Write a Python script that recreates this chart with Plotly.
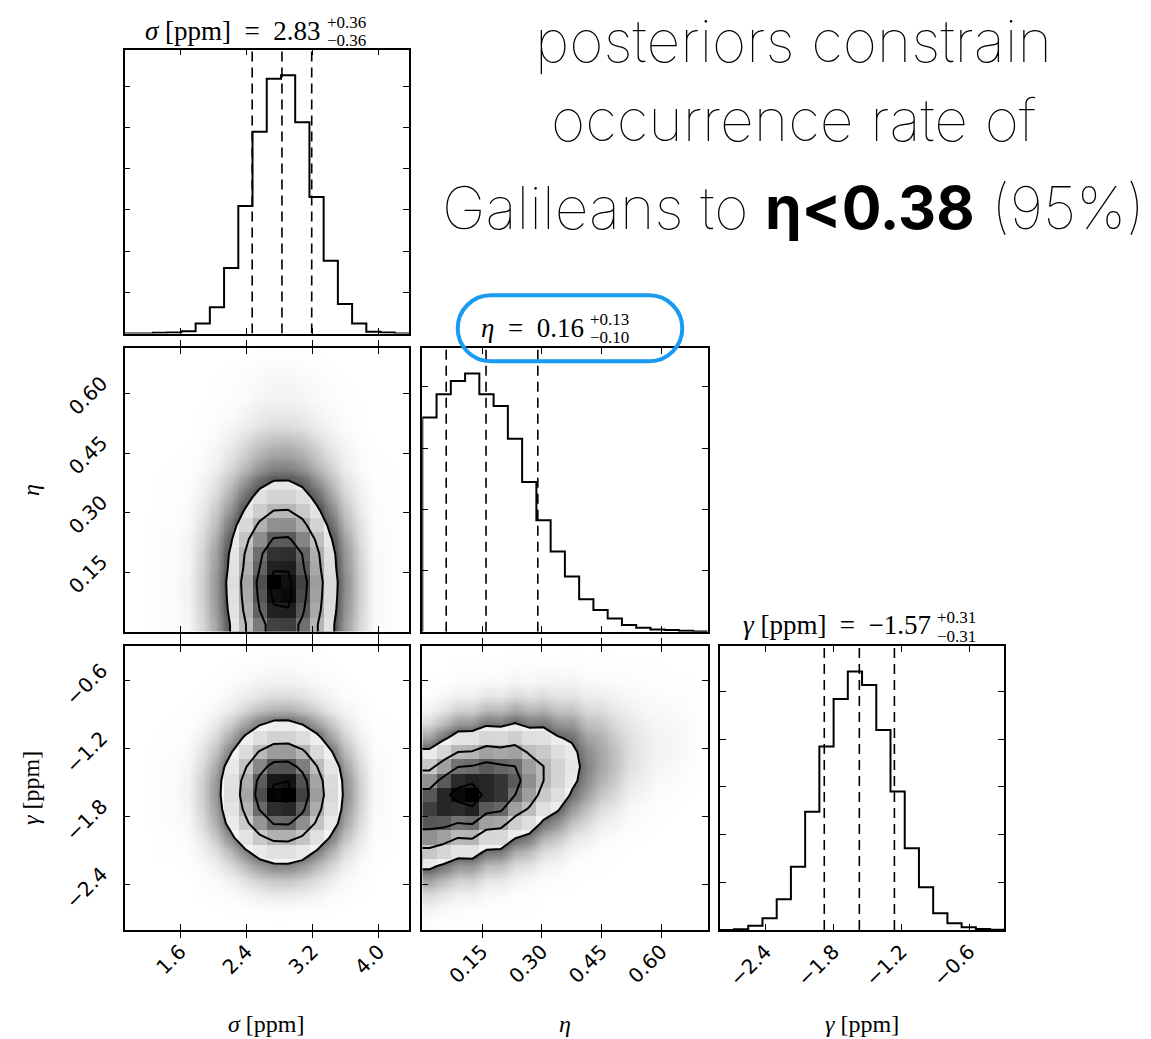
import numpy as np
import plotly.graph_objects as go

W, H = 1151, 1039

# ------------------------------------------------------------------ data
sigma_range = [0.925, 4.367]
eta_range = [0.0, 0.716]
gamma_range = [-2.804, -0.288]

sigma_counts = [0, 0, 8, 12, 28, 122, 317, 793, 1545, 2447, 3089, 3130, 2561, 1654, 882, 358, 122, 20, 12, 0]
eta_counts = [1749, 1940, 2049, 2109, 1940, 1844, 1577, 1224, 910, 656, 451, 265, 178, 109, 55, 33, 19, 14, 8, 3]
gamma_counts = [0, 7, 45, 122, 322, 664, 1241, 1923, 2423, 2710, 2570, 2098, 1451, 857, 448, 175, 70, 28, 10, 3]

sigma_q = [2.47, 2.83, 3.19]
eta_q = [0.06, 0.16, 0.29]
gamma_q = [-1.88, -1.57, -1.26]

sigma_ticks = [1.6, 2.4, 3.2, 4.0]
sigma_ticktext = ["1.6", "2.4", "3.2", "4.0"]
eta_ticks = [0.15, 0.30, 0.45, 0.60]
eta_ticktext = ["0.15", "0.30", "0.45", "0.60"]
gamma_ticks = [-2.4, -1.8, -1.2, -0.6]
gamma_ticktext = ["\u22122.4", "\u22121.8", "\u22121.2", "\u22120.6"]
count_ticks = [500, 1000, 1500, 2000, 2500, 3000]

# 2-D density (per-mille of the peak cell), rows = eta bins (bottom->top), cols = sigma bins
dens_sigma_eta = [
    [0, 0, 2, 3, 7, 32, 84, 210, 410, 648, 818, 829, 678, 438, 234, 95, 32, 5, 3, 0],
    [0, 0, 3, 4, 8, 36, 93, 233, 454, 719, 908, 920, 753, 486, 259, 105, 36, 6, 4, 0],
    [0, 0, 3, 4, 9, 38, 98, 246, 480, 760, 959, 972, 795, 513, 274, 111, 38, 6, 4, 0],
    [0, 0, 3, 4, 9, 39, 101, 253, 494, 782, 1000, 960, 818, 528, 282, 114, 39, 6, 4, 0],
    [0, 0, 3, 4, 8, 36, 93, 233, 454, 719, 908, 920, 753, 486, 259, 105, 36, 6, 4, 0],
    [0, 0, 3, 3, 8, 34, 88, 221, 432, 683, 863, 874, 715, 461, 246, 100, 34, 5, 3, 0],
    [0, 0, 2, 3, 7, 29, 76, 189, 370, 585, 738, 748, 612, 395, 211, 85, 29, 4, 3, 0],
    [0, 0, 2, 2, 5, 23, 59, 147, 287, 454, 572, 580, 474, 306, 164, 66, 23, 3, 2, 0],
    [0, 0, 1, 2, 4, 17, 44, 109, 213, 337, 425, 431, 353, 228, 122, 49, 17, 3, 2, 0],
    [0, 0, 1, 1, 3, 12, 31, 79, 154, 243, 307, 311, 254, 164, 88, 35, 12, 2, 1, 0],
    [0, 0, 1, 1, 2, 8, 22, 54, 106, 167, 211, 214, 175, 113, 60, 24, 8, 1, 1, 0],
    [0, 0, 0, 1, 1, 5, 13, 32, 62, 99, 124, 126, 103, 67, 36, 14, 5, 1, 1, 0],
    [0, 0, 0, 0, 1, 3, 8, 21, 41, 66, 83, 84, 69, 44, 24, 10, 3, 1, 0, 0],
    [0, 0, 0, 0, 0, 2, 5, 13, 26, 41, 51, 52, 43, 27, 15, 6, 2, 0, 0, 0],
    [0, 0, 0, 0, 0, 1, 3, 7, 13, 20, 26, 26, 21, 14, 7, 3, 1, 0, 0, 0],
    [0, 0, 0, 0, 0, 1, 2, 4, 8, 13, 16, 16, 13, 8, 5, 2, 1, 0, 0, 0],
    [0, 0, 0, 0, 0, 0, 1, 2, 4, 7, 9, 9, 7, 5, 3, 1, 0, 0, 0, 0],
    [0, 0, 0, 0, 0, 0, 1, 2, 3, 5, 7, 7, 6, 4, 2, 1, 0, 0, 0, 0],
    [0, 0, 0, 0, 0, 0, 0, 1, 2, 3, 4, 4, 3, 2, 1, 0, 0, 0, 0, 0],
    [0, 0, 0, 0, 0, 0, 0, 0, 0, 1, 1, 1, 1, 1, 0, 0, 0, 0, 0, 0],
]

# rows = gamma bins (bottom->top), cols = sigma bins
dens_sigma_gamma = [
    [0, 0, 0, 0, 0, 0, 0, 0, 0, 0, 0, 0, 0, 0, 0, 0, 0, 0, 0, 0],
    [0, 0, 0, 0, 0, 0, 0, 1, 1, 2, 3, 3, 2, 2, 1, 0, 0, 0, 0, 0],
    [0, 0, 0, 0, 0, 1, 2, 4, 8, 13, 17, 17, 14, 9, 5, 2, 1, 0, 0, 0],
    [0, 0, 0, 0, 0, 2, 5, 11, 22, 35, 44, 45, 37, 24, 13, 5, 2, 0, 0, 0],
    [0, 0, 0, 0, 1, 5, 12, 30, 59, 93, 117, 119, 97, 63, 34, 14, 5, 1, 0, 0],
    [0, 0, 1, 1, 2, 10, 25, 62, 121, 192, 242, 245, 200, 129, 69, 28, 10, 1, 1, 0],
    [0, 0, 1, 2, 4, 18, 46, 116, 226, 358, 452, 458, 375, 242, 129, 52, 18, 3, 2, 0],
    [0, 0, 2, 3, 6, 28, 72, 180, 351, 555, 701, 710, 581, 375, 200, 81, 28, 4, 3, 0],
    [0, 0, 3, 4, 8, 35, 90, 226, 442, 699, 882, 894, 731, 472, 252, 102, 35, 5, 4, 0],
    [0, 0, 3, 4, 9, 39, 101, 253, 494, 782, 987, 1000, 818, 528, 282, 114, 39, 6, 4, 0],
    [0, 0, 3, 4, 9, 37, 96, 240, 468, 741, 936, 948, 775, 501, 267, 108, 37, 6, 4, 0],
    [0, 0, 2, 3, 7, 30, 78, 196, 382, 605, 764, 774, 633, 409, 218, 88, 30, 5, 3, 0],
    [0, 0, 2, 2, 5, 21, 54, 135, 264, 418, 528, 535, 438, 282, 151, 61, 21, 3, 2, 0],
    [0, 0, 1, 1, 3, 12, 32, 80, 156, 247, 312, 316, 258, 167, 89, 36, 12, 2, 1, 0],
    [0, 0, 0, 1, 1, 6, 17, 42, 82, 129, 163, 165, 135, 87, 47, 19, 6, 1, 1, 0],
    [0, 0, 0, 0, 1, 3, 7, 16, 32, 51, 64, 65, 53, 34, 18, 7, 3, 0, 0, 0],
    [0, 0, 0, 0, 0, 1, 3, 7, 13, 20, 26, 26, 21, 14, 7, 3, 1, 0, 0, 0],
    [0, 0, 0, 0, 0, 0, 1, 3, 5, 8, 10, 10, 8, 5, 3, 1, 0, 0, 0, 0],
    [0, 0, 0, 0, 0, 0, 0, 1, 2, 3, 4, 4, 3, 2, 1, 0, 0, 0, 0, 0],
    [0, 0, 0, 0, 0, 0, 0, 0, 0, 1, 1, 1, 1, 1, 0, 0, 0, 0, 0, 0],
]

# listed per eta bin (left->right); each list runs over gamma bins (bottom->top)
dens_eta_gamma_cols = [
    [2, 9, 30, 83, 190, 362, 574, 756, 829, 756, 574, 362, 190, 83, 30, 9, 2, 1, 0, 0],
    [1, 6, 19, 57, 143, 298, 518, 748, 899, 899, 748, 518, 298, 143, 57, 19, 6, 1, 0, 0],
    [1, 3, 11, 35, 97, 223, 425, 673, 886, 972, 886, 673, 425, 223, 97, 35, 11, 3, 1, 0],
    [1, 3, 11, 36, 100, 229, 437, 692, 912, 1000, 912, 692, 437, 229, 100, 36, 11, 3, 1, 0],
    [0, 1, 6, 19, 57, 143, 298, 518, 748, 899, 899, 748, 518, 298, 143, 57, 19, 6, 1, 0],
    [0, 1, 5, 18, 54, 135, 283, 492, 711, 854, 854, 711, 492, 283, 135, 54, 18, 5, 1, 0],
    [0, 1, 2, 8, 27, 75, 171, 327, 518, 682, 748, 682, 518, 327, 171, 75, 27, 8, 2, 1],
    [0, 1, 2, 6, 21, 58, 133, 253, 401, 529, 580, 529, 401, 253, 133, 58, 21, 6, 2, 1],
    [0, 0, 0, 3, 9, 27, 67, 140, 243, 350, 421, 421, 350, 243, 140, 67, 27, 9, 3, 0],
    [0, 0, 0, 2, 7, 19, 48, 101, 175, 253, 304, 304, 253, 175, 101, 48, 19, 7, 2, 0],
    [0, 0, 0, 1, 2, 8, 21, 49, 94, 148, 195, 214, 195, 148, 94, 49, 21, 8, 2, 1],
    [0, 0, 0, 0, 1, 5, 13, 29, 55, 87, 115, 126, 115, 87, 55, 29, 13, 5, 1, 0],
    [0, 0, 0, 0, 1, 2, 5, 13, 27, 47, 68, 82, 82, 68, 47, 27, 13, 5, 2, 1],
    [0, 0, 0, 0, 0, 1, 3, 8, 17, 29, 42, 51, 51, 42, 29, 17, 8, 3, 1, 0],
    [0, 0, 0, 0, 0, 0, 1, 3, 6, 11, 18, 24, 26, 24, 18, 11, 6, 3, 1, 0],
    [0, 0, 0, 0, 0, 0, 1, 2, 4, 7, 11, 15, 16, 15, 11, 7, 4, 2, 1, 0],
    [0, 0, 0, 0, 0, 0, 0, 1, 1, 3, 5, 7, 9, 9, 7, 5, 3, 1, 1, 0],
    [0, 0, 0, 0, 0, 0, 0, 0, 1, 2, 4, 6, 7, 7, 6, 4, 2, 1, 0, 0],
    [0, 0, 0, 0, 0, 0, 0, 0, 0, 1, 2, 3, 4, 4, 4, 3, 2, 1, 0, 0],
    [0, 0, 0, 0, 0, 0, 0, 0, 0, 0, 0, 0, 1, 1, 1, 0, 0, 0, 0, 0],
]

levels_sigma_eta = [200, 420, 720, 930]
levels_sigma_gamma = [140, 400, 690, 950]
levels_eta_gamma = [165, 420, 680, 930]

title_sigma = ("<i>\u03c3</i> [ppm]\u2002=\u20022.83", "+0.36", "\u22120.36")
title_eta = ("<i>\u03b7</i>\u2002=\u20020.16", "+0.13", "\u22120.10")
title_gamma = ("<i>\u03b3</i> [ppm]\u2002=\u2002\u22121.57", "+0.31", "\u22120.31")
heading = ["posteriors constrain", "occurrence rate of",
           "Galileans to <b>\u03b7&lt;0.38</b> (95%)"]

# ------------------------------------------------------------------ layout helpers
COLS = [(124.5, 409.0), (422.3, 707.5), (719.8, 1004.3)]
ROWS = [(49.5, 333.5), (347.7, 631.8), (645.7, 930.0)]
SERIF = "Liberation Serif"
SANS = "DejaVu Sans"


def dom_x(c):
    return [COLS[c][0] / W, COLS[c][1] / W]


def dom_y(r):
    return [1 - ROWS[r][1] / H, 1 - ROWS[r][0] / H]


def px(x, y):
    return x / W, 1 - y / H


def edges_of(rng):
    return np.linspace(rng[0], rng[1], 21)


def centers_padded(rng):
    e = edges_of(rng)
    c = 0.5 * (e[1:] + e[:-1])
    return np.concatenate([[rng[0]], c, [rng[1]]])


fig = go.Figure()

axis_common = dict(showline=True, linecolor="black", linewidth=1.8, mirror="allticks",
                   ticks="inside", ticklen=6, tickwidth=1.3, tickcolor="black",
                   showgrid=False, zeroline=False,
                   tickfont=dict(family=SANS, size=20, color="black"))

# ------------------------------------------------------------------ 1-D histograms
hist_specs = [
    ("x", "y", sigma_range, sigma_counts, sigma_q),
    ("x3", "y3", eta_range, eta_counts, eta_q),
    ("x6", "y6", gamma_range, gamma_counts, gamma_q),
]
for xa, ya, rng, counts, q in hist_specs:
    e = edges_of(rng)
    xs = [e[0]] + list(e)
    ys = [0] + list(counts) + [0]
    fig.add_trace(go.Scatter(x=xs, y=ys, mode="lines", line=dict(color="black", width=2, shape="hv"),
                             xaxis=xa, yaxis=ya, hoverinfo="skip", showlegend=False))
    ymax = 1.1 * max(counts)
    for qq in q:
        fig.add_trace(go.Scatter(x=[qq, qq], y=[0, ymax], mode="lines",
                                 line=dict(color="black", width=1.6, dash="10px,6px"),
                                 xaxis=xa, yaxis=ya, hoverinfo="skip", showlegend=False))

# ------------------------------------------------------------------ 2-D panels
haze_scale = []
for v in [0, 0.005, 0.01, 0.02, 0.04, 0.07, 0.1, 0.15, 0.2, 0.25, 1.0]:
    d = min(0.66, 1 - np.exp(-5.0 * v))
    g = int(round(255 * (1 - d)))
    haze_scale.append([v, f"rgb({g},{g},{g})"])

cell_scale = [[v, f"rgba(0,0,0,{v ** 1.5:.3f})"] for v in [0, 0.1, 0.2, 0.3, 0.4, 0.5, 0.6, 0.7, 0.8, 0.9, 1.0]]

panels = [
    ("x2", "y2", "y7", sigma_range, eta_range, np.array(dens_sigma_eta, float), levels_sigma_eta),
    ("x4", "y4", "y8", sigma_range, gamma_range, np.array(dens_sigma_gamma, float), levels_sigma_gamma),
    ("x5", "y5", "y9", eta_range, gamma_range, np.array(dens_eta_gamma_cols, float).T, levels_eta_gamma),
]
for xa, ya, yo, xr, yr, dens, levels in panels:
    xp = centers_padded(xr)
    yp = centers_padded(yr)
    zp = np.pad(dens, 1, mode="edge")
    # haze standing in for the sample cloud
    fig.add_trace(go.Heatmap(x=xp, y=yp, z=zp / 1000.0, zsmooth="best", colorscale=haze_scale,
                             zmin=0, zmax=1, showscale=False, hoverinfo="skip", xaxis=xa, yaxis=ya))
    # white interior of the outermost contour
    fig.add_trace(go.Contour(x=xp, y=yp, z=zp, contours=dict(type="constraint", operation="<", value=levels[0]),
                             fillcolor="white", line=dict(width=0, color="white"), showscale=False,
                             hoverinfo="skip", xaxis=xa, yaxis=ya))
    # binned density cells
    fig.add_trace(go.Heatmap(x=edges_of(xr), y=edges_of(yr), z=dens / 1000.0, zsmooth=False,
                             colorscale=cell_scale, zmin=0, zmax=1, showscale=False,
                             hoverinfo="skip", xaxis=xa, yaxis=yo))
    for lv in levels:
        fig.add_trace(go.Contour(x=xp, y=yp, z=zp, autocontour=False,
                                 contours=dict(start=lv, end=lv, size=1, coloring="none"),
                                 line=dict(color="black", width=2, smoothing=0), showscale=False,
                                 hoverinfo="skip", xaxis=xa, yaxis=yo))

# ------------------------------------------------------------------ axes
def xaxis(c, rng, ticks, text, labels, anchor):
    d = dict(axis_common, domain=dom_x(c), range=rng, tickvals=ticks, ticktext=text,
             showticklabels=labels, anchor=anchor)
    if labels:
        d["tickangle"] = -45
    return d


def yaxis(r, rng, ticks, text, labels, anchor):
    d = dict(axis_common, domain=dom_y(r), range=rng, tickvals=ticks, ticktext=text,
             showticklabels=labels, anchor=anchor)
    if labels:
        d["tickangle"] = -45
        d["ticklabelstandoff"] = 17
        d["ticklabelshift"] = -13
    return d


ct = [str(t) for t in count_ticks]
fig.update_layout(
    xaxis=xaxis(0, sigma_range, sigma_ticks, sigma_ticktext, False, "y"),
    yaxis=yaxis(0, [0, 1.1 * max(sigma_counts)], count_ticks, ct, False, "x"),
    xaxis2=xaxis(0, sigma_range, sigma_ticks, sigma_ticktext, False, "y2"),
    yaxis2=yaxis(1, eta_range, eta_ticks, eta_ticktext, True, "x2"),
    xaxis3=xaxis(1, eta_range, eta_ticks, eta_ticktext, False, "y3"),
    yaxis3=yaxis(1, [0, 1.1 * max(eta_counts)], count_ticks, ct, False, "x3"),
    xaxis4=xaxis(0, sigma_range, sigma_ticks, sigma_ticktext, True, "y4"),
    yaxis4=yaxis(2, gamma_range, gamma_ticks, gamma_ticktext, True, "x4"),
    xaxis5=xaxis(1, eta_range, eta_ticks, eta_ticktext, True, "y5"),
    yaxis5=yaxis(2, gamma_range, gamma_ticks, gamma_ticktext, False, "x5"),
    xaxis6=xaxis(2, gamma_range, gamma_ticks, gamma_ticktext, True, "y6"),
    yaxis6=yaxis(2, [0, 1.1 * max(gamma_counts)], count_ticks, ct, False, "x6"),
    yaxis7=dict(overlaying="y2", range=eta_range, visible=False, anchor="x2"),
    yaxis8=dict(overlaying="y4", range=gamma_range, visible=False, anchor="x4"),
    yaxis9=dict(overlaying="y5", range=gamma_range, visible=False, anchor="x5"),
)

# ------------------------------------------------------------------ text
annotations = []


def ann(text, x, y, size, xanchor="center", family=SERIF, angle=0, weight=None):
    xx, yy = px(x, y)
    f = dict(family=family, size=size, color="black")
    if weight is not None:
        f["weight"] = weight
    annotations.append(dict(text=text, x=xx, y=yy, xref="paper", yref="paper", showarrow=False,
                            xanchor=xanchor, yanchor="middle", font=f, textangle=angle))


def title(parts, x_join, y_main, y_sup, y_sub):
    main, sup, sub = parts
    ann(main, x_join, y_main, 27, xanchor="right")
    ann(sup, x_join + 2, y_sup, 17, xanchor="left")
    ann(sub, x_join + 2, y_sub, 17, xanchor="left")


title(title_sigma, 323, 31.5, 22, 40.5)
title(title_eta, 586, 328, 319, 337.5)
title(title_gamma, 933, 624.5, 617.5, 636.5)

ann("<i>\u03c3</i> [ppm]", 266.5, 1024, 24)
ann("<i>\u03b7</i>", 565, 1024, 24)
ann("<i>\u03b3</i> [ppm]", 862, 1024, 24)
ann("<i>\u03b7</i>", 31, 490, 24, angle=-90)
ann("<i>\u03b3</i> [ppm]", 31, 788, 24, angle=-90)

HS = 59
for txt, yb in zip(heading, [62, 141, 229]):
    ann(txt, 793, yb - 0.365 * HS, HS, family="Inter", weight=100)

# ------------------------------------------------------------------ highlight pill
x0, y0, x1, y1 = 457.7, 295.3, 682.3, 361.3
r = (y1 - y0) / 2
k = 0.5523 * r


def P(x, y):
    a, b = px(x, y)
    return f"{a:.5f},{b:.5f}"


path = (f"M {P(x0 + r, y0)} L {P(x1 - r, y0)} "
        f"C {P(x1 - r + k, y0)} {P(x1, y0 + r - k)} {P(x1, y0 + r)} "
        f"C {P(x1, y0 + r + k)} {P(x1 - r + k, y1)} {P(x1 - r, y1)} "
        f"L {P(x0 + r, y1)} "
        f"C {P(x0 + r - k, y1)} {P(x0, y0 + r + k)} {P(x0, y0 + r)} "
        f"C {P(x0, y0 + r - k)} {P(x0 + r - k, y0)} {P(x0 + r, y0)} Z")

fig.update_layout(
    width=W, height=H, margin=dict(l=0, r=0, t=0, b=0),
    paper_bgcolor="white", plot_bgcolor="rgba(0,0,0,0)",
    showlegend=False, annotations=annotations,
    shapes=[dict(type="path", path=path, xref="paper", yref="paper",
                 line=dict(color="rgb(24,155,240)", width=4))],
)

fig.write_html("out.html")
